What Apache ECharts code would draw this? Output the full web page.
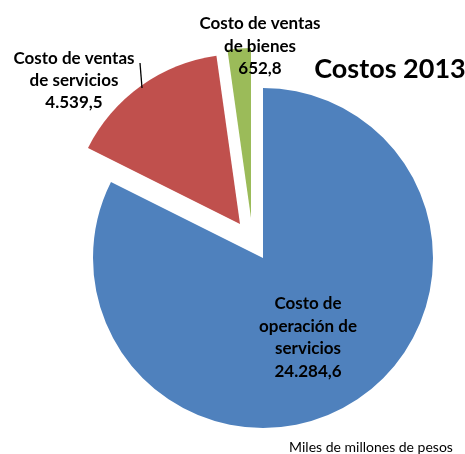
<!DOCTYPE html>
<html>
<head>
<meta charset="utf-8">
<script src="https://cdn.jsdelivr.net/npm/echarts@6/dist/echarts.min.js"></script>
<style>html,body{margin:0;padding:0;background:#fff}#c{width:465px;height:454px}</style>
</head>
<body>
<div id="c"></div>
<script>
const categories = ['Costo de\noperación de\nservicios', 'Costo de ventas\nde servicios', 'Costo de ventas\nde bienes'];
const values = [24284.6, 4539.5, 652.8];
const colors = ['#4F81BD', '#C0504D', '#9BBB59'];
const titleText = 'Costos 2013';
const unitText = 'Miles de millones de pesos';

function fmt(v) {
  const parts = v.toFixed(1).split('.');
  const intPart = parts[0].replace(/\B(?=(\d{3})+(?!\d))/g, '.');
  return intPart + ',' + parts[1];
}
function labelText(i) { return categories[i] + '\n' + fmt(values[i]); }

const chart = echarts.init(document.getElementById('c'), null, {renderer: 'canvas'});
const R = 170;
const centers = [[263, 258], [240, 224], [251, 218]];

function sliceSeries(k) {
  return {
    type: 'pie',
    center: centers[k],
    radius: [0, R],
    startAngle: 90,
    clockwise: true,
    silent: true,
    z: 1,
    label: {show: false},
    labelLine: {show: false},
    emphasis: {disabled: true},
    data: values.map((v, i) => ({
      name: categories[i],
      value: v,
      itemStyle: {color: i === k ? colors[i] : 'rgba(0,0,0,0)'}
    }))
  };
}

const font = 'bold 17px Lato, "Liberation Sans", sans-serif';
chart.setOption({
  animation: false,
  series: [sliceSeries(0), sliceSeries(1), sliceSeries(2)],
  graphic: {
    elements: [
      {type: 'text', z: 100, x: 308, y: 292, style: {text: labelText(0), font: font, fill: '#000', textAlign: 'center', textVerticalAlign: 'top', lineHeight: 22.7}},
      {type: 'text', z: 100, x: 74, y: 48, style: {text: labelText(1), font: font, fill: '#000', textAlign: 'center', textVerticalAlign: 'top', lineHeight: 22}},
      {type: 'text', z: 100, x: 260, y: 12, style: {text: labelText(2), font: font, fill: '#000', textAlign: 'center', textVerticalAlign: 'top', lineHeight: 22.7}},
      {type: 'line', z: 100, shape: {x1: 140, y1: 63, x2: 142, y2: 88}, style: {stroke: '#000', lineWidth: 1.3}},
      {type: 'text', z: 100, x: 390, y: 69, style: {text: titleText, font: 'bold 27px Lato, "Liberation Sans", sans-serif', fill: '#000', textAlign: 'center', textVerticalAlign: 'middle'}},
      {type: 'text', z: 100, x: 371, y: 447, style: {text: unitText, font: '14px Lato, "Liberation Sans", sans-serif', fill: '#000', textAlign: 'center', textVerticalAlign: 'middle'}}
    ]
  }
});
</script>
</body>
</html>
